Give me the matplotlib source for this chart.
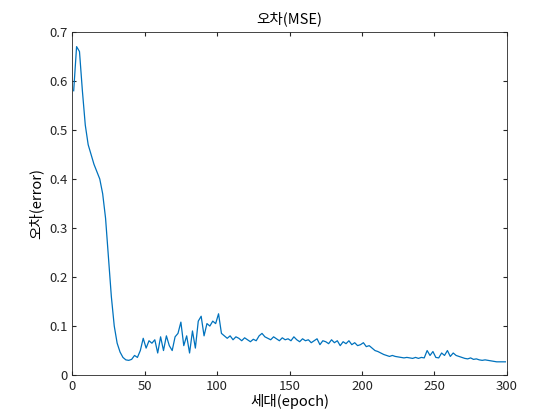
import matplotlib
matplotlib.use('Agg')
from matplotlib import pyplot as plt

epochs = list(range(1, 301, 2))
mse = [0.58, 0.67, 0.66, 0.58, 0.51, 0.47, 0.45, 0.43, 0.415, 0.40,
       0.37, 0.32, 0.24, 0.16, 0.10, 0.065, 0.047, 0.036, 0.031, 0.030,
       0.032, 0.04, 0.036, 0.05, 0.075, 0.055, 0.07, 0.065, 0.072, 0.045,
       0.078, 0.05, 0.08, 0.06, 0.05, 0.078, 0.085, 0.108, 0.06, 0.08,
       0.045, 0.09, 0.055, 0.11, 0.12, 0.08, 0.105, 0.10, 0.11, 0.105,
       0.125, 0.085, 0.08, 0.075, 0.08, 0.072, 0.078, 0.075, 0.07, 0.076,
       0.072, 0.068, 0.073, 0.07, 0.08, 0.085, 0.078, 0.075, 0.072, 0.078,
       0.074, 0.07, 0.076, 0.072, 0.074, 0.07, 0.078, 0.072, 0.068, 0.074,
       0.07, 0.072, 0.066, 0.07, 0.074, 0.062, 0.07, 0.068, 0.064, 0.072,
       0.066, 0.07, 0.06, 0.068, 0.064, 0.07, 0.062, 0.066, 0.06, 0.062,
       0.066, 0.058, 0.06, 0.055, 0.05, 0.048, 0.045, 0.042, 0.04, 0.038,
       0.04, 0.038, 0.037, 0.036, 0.035, 0.036, 0.035, 0.034, 0.036, 0.034,
       0.036, 0.035, 0.05, 0.04, 0.048, 0.036, 0.035, 0.045, 0.04, 0.05,
       0.038, 0.045, 0.04, 0.038, 0.036, 0.034, 0.033, 0.035, 0.032, 0.033,
       0.031, 0.030, 0.031, 0.030, 0.029, 0.028, 0.027, 0.027, 0.027, 0.027]

plt.rcParams['font.family'] = ['Noto Sans CJK KR', 'DejaVu Sans']
plt.rcParams['font.size'] = 10

fig = plt.figure(figsize=(5.6, 4.2), dpi=100)
ax = fig.add_axes([0.129, 0.107, 0.776, 0.817])
ax.plot(epochs, mse, color='#0072BD', linewidth=0.9)
ax.set_xlim(0, 300)
ax.set_ylim(0, 0.7)
ax.set_xticks([0, 50, 100, 150, 200, 250, 300])
ax.set_yticks([0, 0.1, 0.2, 0.3, 0.4, 0.5, 0.6, 0.7])
ax.set_yticklabels(['0', '0.1', '0.2', '0.3', '0.4', '0.5', '0.6', '0.7'])
ax.tick_params(direction='in', top=True, right=True, length=3, colors='#262626', labelsize=9.5)
for s in ax.spines.values():
    s.set_color('#262626')
    s.set_linewidth(0.6)
ax.set_title('오차(MSE)', fontsize=10.5, color='#000000')
ax.set_xlabel('세대(epoch)', fontsize=10.5, labelpad=1)
ax.set_ylabel('오차(error)', fontsize=10.5, labelpad=4)
plt.savefig('out.png')
